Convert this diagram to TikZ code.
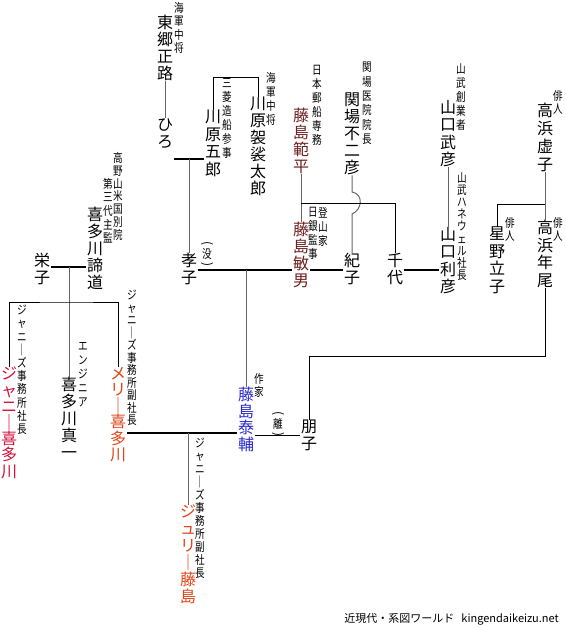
\documentclass[tikz,border=0pt]{standalone}
\usepackage{fontspec}
\usepackage{graphicx}
\setmainfont{Noto Sans CJK JP}
\usetikzlibrary{calc}

\definecolor{fujiRed}{HTML}{6E1E1E}
\definecolor{taiBlue}{HTML}{2A2AD0}
\definecolor{johnnyRed}{HTML}{D0103C}
\definecolor{jmsOrange}{HTML}{E04418}

% vertical writing: one character per line
\makeatletter
\def\tate@relax{\relax}
\def\tate@loop#1{\def\tate@arg{#1}\ifx\tate@arg\tate@relax\else
  \hbox to 1.05em{\hss\scalebox{\tatexscale}[1]{#1}\hss}\expandafter\tate@loop\fi}
\newcommand\tateskip{17pt}
\newcommand\tatexscale{1}
\newcommand\tate[2][\tateskip]{\vbox{\baselineskip=#1\lineskiplimit=-\maxdimen\tate@loop#2\relax}}
\makeatother
% a word in vertical brackets
\newcommand\kakko[1]{\vbox{\offinterlineskip
  \hbox to 1.05em{\hss\rotatebox{-90}{(}\hss}\vskip3pt
  \hbox to 1.05em{\hss\scalebox{\tatexscale}[1]{#1}\hss}\vskip3pt
  \hbox to 1.05em{\hss\rotatebox{-90}{)}\hss}}}

\tikzset{
  person/.style={inner sep=0pt, anchor=north, font=\fontsize{16}{17}\selectfont},
  remark/.style={inner sep=0pt, anchor=north,
    font={\fontsize{12}{13}\selectfont\def\tateskip{14pt}\def\tatexscale{0.8}}},
  kin/.style={draw=black!60, line width=1pt},
  link/.style={draw=black, line width=0.9pt},
  tie/.style={draw=black, line width=2.6pt}
}

\begin{document}
\begin{tikzpicture}[x=1pt, y=-1pt, line cap=butt, line join=miter]
  \path[fill=white, use as bounding box] (0,0) rectangle (565,628);

  % people
  \node[person] (togo) at (165,15) {\tate{東郷正路}};
  \node[person] (hiro) at (165,118) {\tate{ひろ}};
  \node[person] (goro) at (213,110) {\tate[17.5pt]{川原五郎}};
  \node[person] (kesataro) at (258,97) {\tate{川原袈裟太郎}};
  \node[person, text=fujiRed] (norihei) at (301,108) {\tate{藤島範平}};
  \node[person] (sekiba) at (352,93) {\tate{関場不二彦}};
  \node[person] (takehiko) at (448,100) {\tate[17.5pt]{山口武彦}};
  \node[person] (kyoshi) at (545,103) {\tate[18pt]{高浜虚子}};
  \node[person] (takako) at (189,253) {\tate{孝子}};
  \node[person, text=fujiRed] (toshio) at (301,222) {\tate{藤島敏男}};
  \node[person] (noriko) at (352,253) {\tate{紀子}};
  \node[person] (chiyo) at (395,253) {\tate{千代}};
  \node[person] (toshihiko) at (448,227) {\tate[17.5pt]{山口利彦}};
  \node[person] (tatsuko) at (497,227) {\tate[17.5pt]{星野立子}};
  \node[person] (nenbi) at (545,220) {\tate[17.5pt]{高浜年尾}};
  \node[person] (eiko) at (42,253) {\tate{栄子}};
  \node[person] (teido) at (95,207) {\tate{喜多川諦道}};
  \node[person, text=johnnyRed] (johnny) at (9,367) {\tate[16.2pt]{ジャニ｜喜多川}};
  \node[person] (shinichi) at (69,377) {\tate{喜多川真一}};
  \node[person, text=jmsOrange] (mary) at (118,367) {\tate[16.2pt]{メリ｜喜多川}};
  \node[person, text=taiBlue] (yasusuke) at (246,387) {\tate[16.5pt]{藤島泰輔}};
  \node[person] (tomoko) at (309,420) {\tate{朋子}};
  \node[person, text=jmsOrange] (julie) at (188,505) {\tate{ジュリ｜藤島}};

  % titles
  \node[remark] (kaigun1) at (179,2) {\tate[13.5pt]{海軍中将}};
  \node[remark] (mitsubishi) at (227,78) {\tate{三菱造船参事}};
  \node[remark] (kaigun2) at (271,72) {\tate{海軍中将}};
  \node[remark] (nyk) at (317,65) {\tate{日本郵船専務}};
  \node[remark] (sekibaiin) at (367,62) {\tate[14.4pt]{関場医院院長}};
  \node[remark] (tozan) at (323,207) {\tate{登山家}};
  \node[remark] (nichigin) at (313,207) {\tate{日銀監事}};
  \node[remark] (yamatake1) at (461,63) {\tate{山武創業者}};
  \node[remark] (yamatake2) at (462,172) {\tate[12.2pt]{山武ハネウェル社長}};
  \node[remark] (haijin1) at (558,90) {\tate[13pt]{俳人}};
  \node[remark] (haijin2) at (510,217) {\tate[13pt]{俳人}};
  \node[remark] (haijin3) at (558,217) {\tate[13pt]{俳人}};
  \node[remark] (koyasan) at (118,152) {\tate[12.9pt]{高野山米国別院}};
  \node[remark] (daisan) at (108,178) {\tate[13.6pt]{第三代主監}};
  \node[remark] (botsu) at (207,241) {\kakko{没}};
  \node[remark] (sakka) at (259,373) {\tate[13pt]{作家}};
  \node[remark] (ri) at (278,411) {\kakko{離}};
  \node[remark] (jjshacho) at (22,305) {\tate[13.2pt]{ジャニ｜ズ事務所社長}};
  \node[remark] (engineer) at (83,342) {\tate{エンジニア}};
  \node[remark] (jjfuku1) at (132,290) {\tate[12.5pt]{ジャニ｜ズ事務所副社長}};
  \node[remark] (jjfuku2) at (200,438) {\tate[13pt]{ジャニ｜ズ事務所副社長}};

  \node[inner sep=0pt, anchor=south east, font=\fontsize{11}{12}\selectfont] (site) at (559,625) {近現代・系図ワールド\hspace{7pt}kingendaikeizu.net};

  % marriages
  \coordinate (m1) at (189,159);
  \coordinate (m2) at (246,270);
  \coordinate (m6) at (69,267);
  \coordinate (m8) at (188,433);
  \draw[tie] (hiro.east |- m1) -- (goro.west |- m1);
  \draw[tie] (takako.east |- m2) -- (toshio.west |- m2);
  \draw[tie] (toshio.east |- m2) -- (noriko.west |- m2);
  \draw[tie] (chiyo.east |- m2) -- (toshihiko.west |- m2);
  \draw[tie] (eiko.east |- m6) -- (teido.west |- m6);
  \draw[tie] (mary.east |- m8) -- (yasusuke.west |- m8);
  \draw[link] (tomoko.west -| yasusuke.east) -- (tomoko.west);

  % descent
  \coordinate (m3) at (301,203);
  \coordinate (m4) at (545,204);
  \coordinate (m5) at (309,356);
  \coordinate (m7) at (69,302);
  \draw[kin] (togo.south) -- (hiro.north);
  \draw[kin] (m1) -- (takako.north);
  \draw[kin] (norihei.south) -- (toshio.north);
  \draw[kin] (sekiba.south) -- ($(sekiba.south |- m3)+(0,-11)$)
    .. controls +(12,2) and +(10,-4) .. ($(sekiba.south |- m3)+(0,11)$) -- (noriko.north);
  \draw[kin] (takehiko.south) -- (toshihiko.north);
  \draw[kin] (kyoshi.south) -- (nenbi.north);
  \draw[kin] (m2) -- (yasusuke.north);
  \draw[kin] (m6) -- (shinichi.north);
  \draw[kin] (m8) -- (julie.north);
  \draw[link] (goro.north) |- ($(kesataro.north)+(0,-20)$) -- (kesataro.north);
  \draw[link] (m3) -| (chiyo.north);
  \draw[link] (m4) -| (tatsuko.north);
  \draw[link] (nenbi.south) |- (m5) -- (tomoko.north);
  \draw[link] (johnny.north) |- (m7) -| (mary.north);
\end{tikzpicture}
\end{document}
